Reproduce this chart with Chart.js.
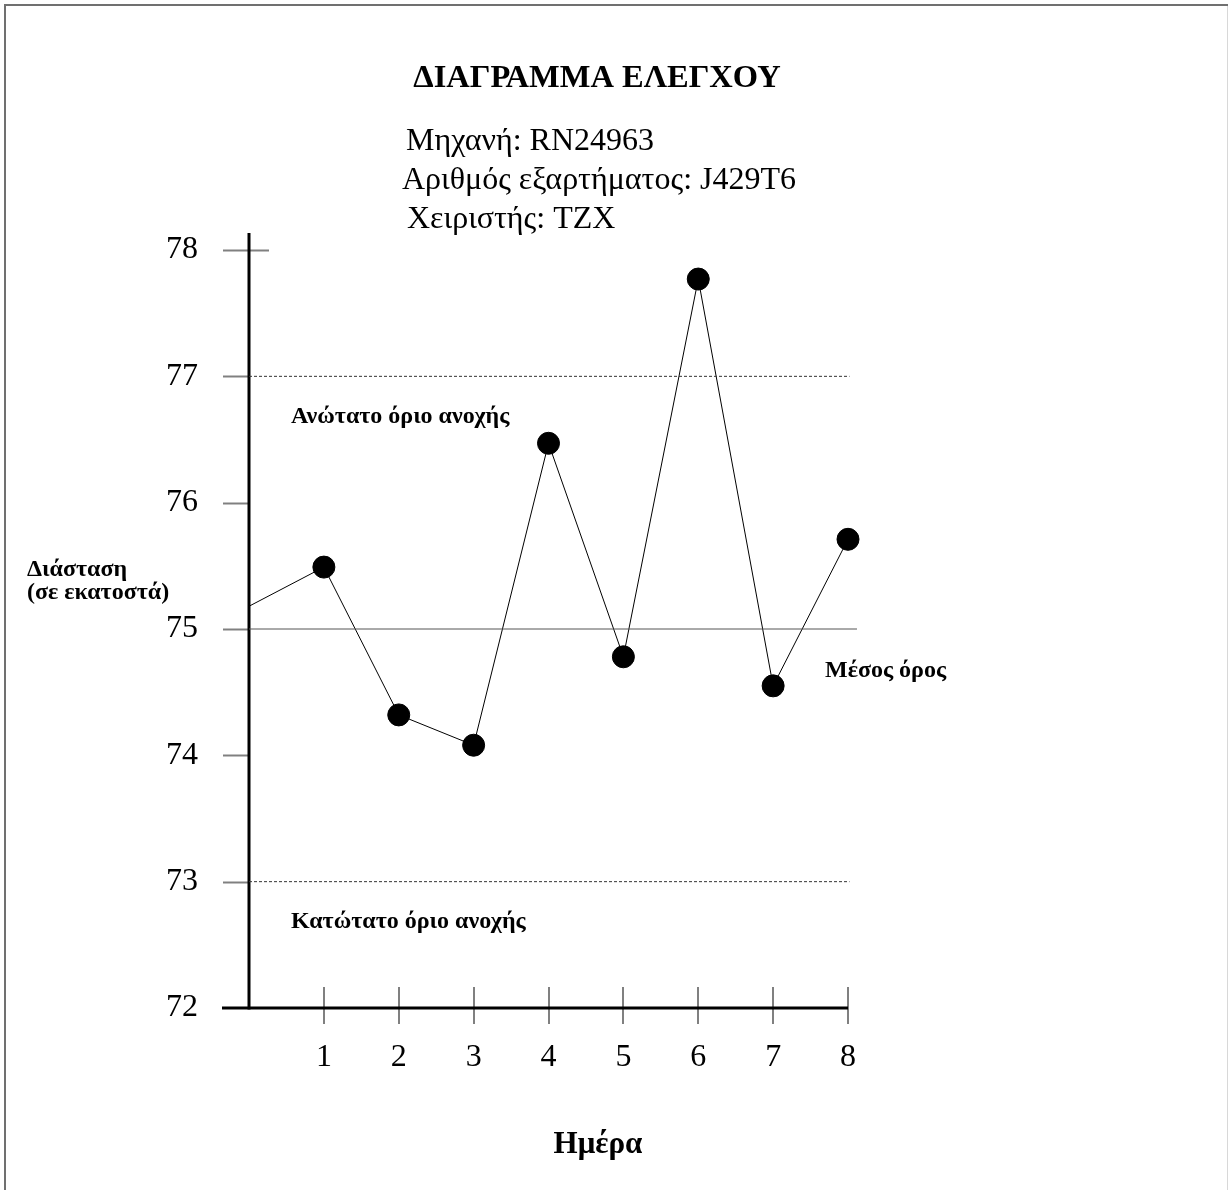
<!DOCTYPE html>
<html>
<head>
<meta charset="utf-8">
<script src="https://cdn.jsdelivr.net/npm/chart.js@4.4.1/dist/chart.umd.min.js"></script>
<style>
html,body{margin:0;padding:0;background:#fff;}
#wrap{width:1228px;height:1190px;position:relative;}
</style>
</head>
<body>
<div id="wrap"><canvas id="c" width="1228" height="1190"></canvas></div>
<script>
// ---- data ----
const days = [0, 1, 2, 3, 4, 5, 6, 7, 8];
const dimension = [75.18, 75.49, 74.32, 74.08, 76.47, 74.78, 77.77, 74.55, 75.71];
const xTickValues = [1, 2, 3, 4, 5, 6, 7, 8];
const xTickLabels = ['1', '2', '3', '4', '5', '6', '7', '8'];
const yTickValues = [72, 73, 74, 75, 76, 77, 78];
const yTickLabels = ['72', '73', '74', '75', '76', '77', '78'];
const meanValue = 75;
const upperLimit = 77;
const lowerLimit = 73;
const lineSpanMean = [0, 8.12];
const lineSpanLimits = [0, 8.02];

const titleText = 'ΔΙΑΓΡΑΜΜΑ ΕΛΕΓΧΟΥ';
const infoLines = ['Μηχανή: RN24963', 'Αριθμός εξαρτήματος: J429T6', 'Χειριστής: TZX'];
const yAxisTitle = ['Διάσταση', '(σε εκατοστά)'];
const xAxisTitle = 'Ημέρα';
const upperLabel = 'Ανώτατο όριο ανοχής';
const lowerLabel = 'Κατώτατο όριο ανοχής';
const meanLabel = 'Μέσος όρος';

const SERIF = '"Liberation Serif", "DejaVu Serif", serif';

const decor = {
  id: 'decor',
  beforeDatasetsDraw(chart) {
    const ctx = chart.ctx;
    const xs = chart.scales.x, ys = chart.scales.y;
    const L = xs.getPixelForValue(0);
    const B = ys.getPixelForValue(72);
    ctx.save();
    // frame
    ctx.strokeStyle = '#707070';
    ctx.lineWidth = 2;
    ctx.beginPath();
    ctx.moveTo(5, 1190); ctx.lineTo(5, 5); ctx.lineTo(1228, 5);
    ctx.stroke();
    ctx.strokeStyle = '#d8d8d8';
    ctx.lineWidth = 1;
    ctx.beginPath();
    ctx.moveTo(1227.5, 6); ctx.lineTo(1227.5, 1190);
    ctx.stroke();
    // y tick marks (crossing)
    ctx.strokeStyle = '#808080';
    ctx.lineWidth = 2;
    yTickValues.forEach(v => {
      if (v === 72) return;
      const y = Math.round(ys.getPixelForValue(v)) + 0.5;
      ctx.beginPath();
      ctx.moveTo(L - 26, y);
      ctx.lineTo(L + (v === 78 ? 20 : 0), y);
      ctx.stroke();
    });
    // x tick marks
    xTickValues.forEach(v => {
      const x = Math.round(xs.getPixelForValue(v));
      ctx.beginPath();
      ctx.moveTo(x, B - 21);
      ctx.lineTo(x, B + 16);
      ctx.stroke();
    });
    // axes
    ctx.strokeStyle = '#000';
    ctx.lineWidth = 3;
    ctx.beginPath();
    ctx.moveTo(L, ys.getPixelForValue(78) - 17);
    ctx.lineTo(L, B + 1.5);
    ctx.stroke();
    ctx.beginPath();
    ctx.moveTo(L - 27, B);
    ctx.lineTo(xs.getPixelForValue(8), B);
    ctx.stroke();
    ctx.restore();
  },
  afterDraw(chart) {
    const ctx = chart.ctx;
    ctx.save();
    ctx.fillStyle = '#000';
    ctx.textBaseline = 'alphabetic';
    // title
    ctx.font = 'bold 32.5px ' + SERIF;
    ctx.textAlign = 'center';
    ctx.fillText(titleText, 597, 87);
    // info lines
    ctx.font = '32px ' + SERIF;
    ctx.textAlign = 'left';
    ctx.fillText(infoLines[0], 406, 150);
    ctx.fillText(infoLines[1], 402, 189);
    ctx.fillText(infoLines[2], 407, 228);
    // y axis title
    ctx.font = 'bold 24px ' + SERIF;
    ctx.fillText(yAxisTitle[0], 27, 576);
    ctx.fillText(yAxisTitle[1], 27, 599);
    // annotations
    ctx.fillText(upperLabel, 291, 423);
    ctx.fillText(lowerLabel, 291, 928);
    ctx.fillText(meanLabel, 825, 677);
    // x axis title
    ctx.font = 'bold 31px ' + SERIF;
    ctx.textAlign = 'center';
    ctx.fillText(xAxisTitle, 598, 1153);
    ctx.restore();
  }
};

const limitLine = (v, span) => span.map(x => ({x: x, y: v}));

new Chart(document.getElementById('c'), {
  type: 'scatter',
  data: {
    datasets: [
      {
        data: limitLine(upperLimit, lineSpanLimits),
        showLine: true, borderColor: '#333', borderWidth: 1, borderDash: [3, 2],
        pointRadius: 0, clip: false
      },
      {
        data: limitLine(lowerLimit, lineSpanLimits),
        showLine: true, borderColor: '#333', borderWidth: 1, borderDash: [3, 2],
        pointRadius: 0, clip: false
      },
      {
        data: limitLine(meanValue, lineSpanMean),
        showLine: true, borderColor: '#555', borderWidth: 1,
        pointRadius: 0, clip: false
      },
      {
        data: days.map((d, i) => ({x: d, y: dimension[i]})),
        showLine: true, borderColor: '#000', borderWidth: 1,
        pointRadius: days.map(d => d === 0 ? 0 : 11),
        pointBackgroundColor: '#000', pointBorderColor: '#000', pointBorderWidth: 1,
        clip: false
      }
    ]
  },
  options: {
    responsive: false,
    animation: false,
    devicePixelRatio: 1,
    layout: {padding: {left: 0, top: 250, right: 380, bottom: 0}},
    plugins: {legend: {display: false}, tooltip: {enabled: false}, title: {display: false}},
    scales: {
      x: {
        type: 'linear', min: 0, max: 8,
        grid: {display: false, drawTicks: false},
        border: {display: false},
        afterFit: s => { s.height = 182; },
        afterBuildTicks: s => { s.ticks = xTickValues.map(v => ({value: v})); },
        ticks: {
          padding: 30, color: '#000', maxRotation: 0, autoSkip: false,
          font: {family: SERIF, size: 32},
          callback: (v) => { const i = xTickValues.indexOf(v); return i >= 0 ? xTickLabels[i] : ''; }
        }
      },
      y: {
        type: 'linear', min: 72, max: 78,
        grid: {display: false, drawTicks: false},
        border: {display: false},
        afterFit: s => { s.width = 249; },
        afterBuildTicks: s => { s.ticks = yTickValues.map(v => ({value: v})); },
        ticks: {
          padding: 51, color: '#000', autoSkip: false,
          font: {family: SERIF, size: 32},
          callback: (v) => { const i = yTickValues.indexOf(v); return i >= 0 ? yTickLabels[i] : ''; }
        }
      }
    }
  },
  plugins: [decor]
});
</script>
</body>
</html>
